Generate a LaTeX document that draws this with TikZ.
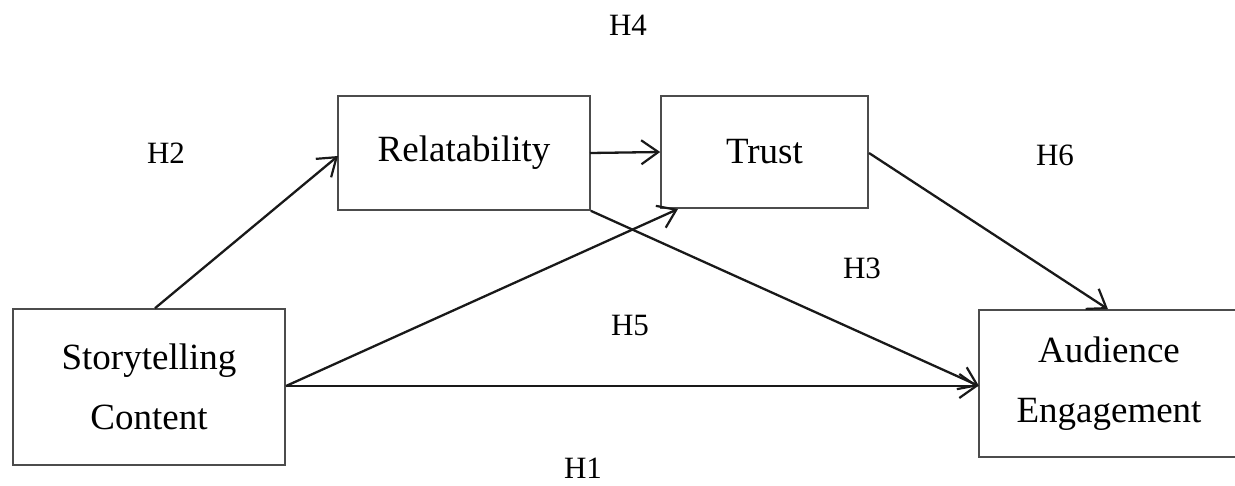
\documentclass[tikz,border=0pt]{standalone}
\usepackage{fontspec}
\setmainfont{Liberation Serif}
\usetikzlibrary{arrows.meta}
\begin{document}
\begin{tikzpicture}[x=1pt,y=-1pt,
  box/.style={draw=black!70, line width=1.6pt, inner sep=0pt, font=\fontsize{37}{60}\selectfont, align=center},
  hyp/.style={font=\fontsize{31}{36}\selectfont, inner sep=0pt},
  conn/.style={draw=black!90, line width=2.3pt, -{Straight Barb[length=17pt,width=24pt,line width=2.2pt]}}]
\useasboundingbox (0,0) rectangle (1235,485);
\node[box, minimum width=272pt, minimum height=156pt] (sc) at (149,387) {Storytelling\\Content};
\node[box, minimum width=252pt, minimum height=114pt] (rel) at (464,153) {Relatability};
\node[box, minimum width=207pt, minimum height=112pt] (tr) at (764.5,152) {Trust};
\node[box, minimum width=260pt, minimum height=147pt] (ae) at (1109,383.5) {Audience\\Engagement};
\coordinate (scR) at (286,386);
\draw[conn] (sc.north -| 155,0) -- (338,156);
\draw[conn] (590,153) -- (tr.west);
\draw[conn] (scR) -- (678,209);
\draw[conn] (rel.south east) -- (979,386);
\draw[conn] (scR) -- (ae.west |- 0,386);
\draw[conn] (869,153) -- (ae.north -| 1108,0);
\node[hyp] (h4) at (628,25) {H4};
\node[hyp] (h2) at (166,153) {H2};
\node[hyp] (h6) at (1055,155) {H6};
\node[hyp] (h3) at (862,268) {H3};
\node[hyp] (h5) at (630,325) {H5};
\node[hyp] (h1) at (583,468) {H1};
\end{tikzpicture}
\end{document}
